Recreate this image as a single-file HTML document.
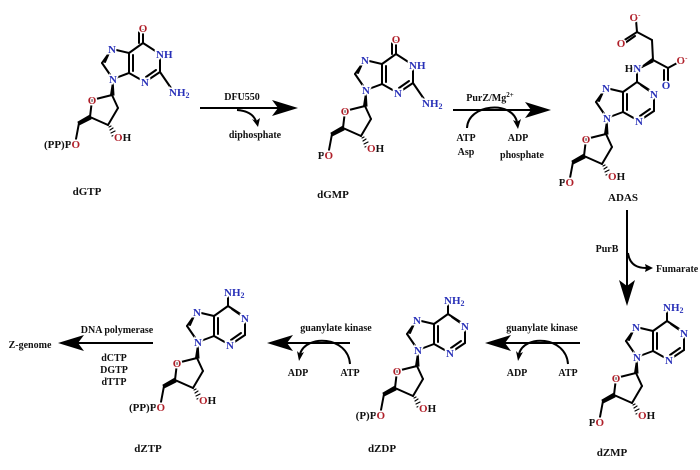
<!DOCTYPE html>
<html><head><meta charset="utf-8"><style>
html,body{margin:0;padding:0;background:#fff;width:700px;height:470px;overflow:hidden}
svg{display:block}
text{font-family:"Liberation Serif",serif;font-weight:bold;font-size:11px;}
.m{stroke:#fff;stroke-width:3px;paint-order:stroke;}
.o{fill:#b0202a}.n{fill:#2830b8}.k{fill:#111}
.l{font-size:10px;fill:#111}
</style></head><body>
<svg width="700" height="470" viewBox="0 0 700 470" xmlns="http://www.w3.org/2000/svg">
<defs>
<g id="pur" stroke="#000" stroke-width="2" fill="none" stroke-linecap="round">
 <line x1="143" y1="43" x2="160" y2="54"/>
 <line x1="160" y1="54" x2="160" y2="72"/>
 <line x1="160" y1="72" x2="145" y2="82"/>
 <line x1="145" y1="82" x2="129" y2="73"/>
 <line x1="129" y1="73" x2="129" y2="53"/>
 <line x1="133" y1="71" x2="133" y2="55"/>
 <line x1="129" y1="53" x2="143" y2="43"/>
 <line x1="129" y1="53" x2="112" y2="49"/>
 <line x1="112" y1="49" x2="102" y2="63"/>
 <line x1="109" y1="53" x2="105" y2="62"/>
 <line x1="102" y1="63" x2="113" y2="79"/>
 <line x1="113" y1="79" x2="129" y2="73"/>
</g>
<g id="sug" stroke="#000" stroke-width="2" fill="none" stroke-linecap="round">
 <line x1="112" y1="95" x2="92" y2="100"/>
 <line x1="92" y1="100" x2="90" y2="117"/>
 <line x1="90" y1="117" x2="108" y2="125"/>
 <line x1="108" y1="125" x2="118" y2="108"/>
 <line x1="118" y1="108" x2="112" y2="95"/>
 <polygon points="113,79 110.5,95 114,95" fill="#000" stroke-width="1"/>
 <polygon points="90,115 91,119 79,125 78,122" fill="#000" stroke-width="1"/>
 <line x1="79" y1="123" x2="76" y2="139"/>
 <g stroke-width="1.2"><line x1="109" y1="127" x2="111" y2="126"/><line x1="110" y1="130" x2="113" y2="128"/><line x1="111" y1="133" x2="115" y2="131"/><line x1="112" y1="136" x2="117" y2="134"/></g>
</g>
<g id="gua" stroke="#000" stroke-width="2" fill="none" stroke-linecap="round">
 <line x1="143" y1="43" x2="143" y2="30"/><line x1="139" y1="43" x2="139" y2="32"/>
 <line x1="156" y1="70" x2="146" y2="77"/>
 <line x1="160" y1="72" x2="171" y2="88"/>
</g>
<g id="ade" stroke="#000" stroke-width="2" fill="none" stroke-linecap="round">
 <line x1="143" y1="43" x2="143" y2="31"/>
 <line x1="147" y1="46" x2="157" y2="53"/>
 <line x1="156" y1="70" x2="146" y2="77"/>
</g>
</defs>

<!-- dGTP -->
<use href="#pur"/><use href="#sug"/><use href="#gua"/>
<text x="143" y="32" text-anchor="middle" class="o m">O</text>
<text x="112" y="53" text-anchor="middle" class="n m">N</text>
<text x="156" y="58" class="n m">NH</text>
<text x="113" y="83" text-anchor="middle" class="n m">N</text>
<text x="145" y="86" text-anchor="middle" class="n m">N</text>
<text x="169" y="96" class="n m">NH<tspan font-size="8" dy="2">2</tspan></text>
<text x="92" y="104" text-anchor="middle" class="o m">O</text>
<text x="114" y="141" class="o m">O<tspan class="k">H</tspan></text>
<text x="80" y="148" text-anchor="end" class="k m">(PP)P<tspan class="o">O</tspan></text>
<text x="87" y="195" text-anchor="middle" class="k">dGTP</text>

<!-- dGMP -->
<g transform="translate(253,11)"><use href="#pur"/><use href="#sug"/><use href="#gua"/></g>
<text x="396" y="43" text-anchor="middle" class="o m">O</text>
<text x="365" y="64" text-anchor="middle" class="n m">N</text>
<text x="409" y="69" class="n m">NH</text>
<text x="366" y="94" text-anchor="middle" class="n m">N</text>
<text x="398" y="97" text-anchor="middle" class="n m">N</text>
<text x="422" y="107" class="n m">NH<tspan font-size="8" dy="2">2</tspan></text>
<text x="345" y="115" text-anchor="middle" class="o m">O</text>
<text x="367" y="152" class="o m">O<tspan class="k">H</tspan></text>
<text x="333" y="159" text-anchor="end" class="k m">P<tspan class="o">O</tspan></text>
<text x="333" y="198" text-anchor="middle" class="k">dGMP</text>

<!-- ADAS -->
<g transform="translate(494,39)"><use href="#pur"/><use href="#sug"/><use href="#ade"/></g>
<g stroke="#000" stroke-width="2" fill="none" stroke-linecap="round">
 <polygon points="637,70 653,58 653,62" fill="#000" stroke-width="1"/>
 <line x1="653" y1="60" x2="652" y2="40"/>
 <line x1="652" y1="40" x2="637" y2="32"/>
 <line x1="637" y1="32" x2="636" y2="20"/>
 <line x1="637" y1="32" x2="623" y2="41"/><line x1="635" y1="36" x2="625" y2="43"/>
 <line x1="653" y1="60" x2="668" y2="68"/>
 <line x1="668" y1="68" x2="679" y2="62"/>
 <line x1="668" y1="68" x2="668" y2="81"/><line x1="664" y1="70" x2="664" y2="81"/>
</g>
<text x="635" y="21" text-anchor="middle" class="o m">O<tspan font-size="7" dy="-4">-</tspan></text>
<text x="621" y="47" text-anchor="middle" class="o m">O</text>
<text x="682" y="64" text-anchor="middle" class="o m">O<tspan font-size="7" dy="-4">-</tspan></text>
<text x="666" y="89" text-anchor="middle" class="n m">O</text>
<text x="633" y="72" text-anchor="middle" class="k m">H<tspan class="n">N</tspan></text>
<text x="606" y="92" text-anchor="middle" class="n m">N</text>
<text x="654" y="98" text-anchor="middle" class="n m">N</text>
<text x="607" y="122" text-anchor="middle" class="n m">N</text>
<text x="639" y="125" text-anchor="middle" class="n m">N</text>
<text x="586" y="143" text-anchor="middle" class="o m">O</text>
<text x="608" y="180" class="o m">O<tspan class="k">H</tspan></text>
<text x="574" y="186" text-anchor="end" class="k m">P<tspan class="o">O</tspan></text>
<text x="623" y="201" text-anchor="middle" class="k">ADAS</text>

<!-- dZMP -->
<g transform="translate(524,278)"><use href="#pur"/><use href="#sug"/><use href="#ade"/></g>
<text x="663" y="311" class="n m">NH<tspan font-size="8" dy="2">2</tspan></text>
<text x="636" y="331" text-anchor="middle" class="n m">N</text>
<text x="684" y="337" text-anchor="middle" class="n m">N</text>
<text x="637" y="361" text-anchor="middle" class="n m">N</text>
<text x="669" y="364" text-anchor="middle" class="n m">N</text>
<text x="616" y="382" text-anchor="middle" class="o m">O</text>
<text x="638" y="419" class="o m">O<tspan class="k">H</tspan></text>
<text x="604" y="426" text-anchor="end" class="k m">P<tspan class="o">O</tspan></text>
<text x="612" y="456" text-anchor="middle" class="k">dZMP</text>

<!-- dZDP -->
<g transform="translate(305,271)"><use href="#pur"/><use href="#sug"/><use href="#ade"/></g>
<text x="444" y="304" class="n m">NH<tspan font-size="8" dy="2">2</tspan></text>
<text x="417" y="324" text-anchor="middle" class="n m">N</text>
<text x="465" y="330" text-anchor="middle" class="n m">N</text>
<text x="418" y="354" text-anchor="middle" class="n m">N</text>
<text x="450" y="357" text-anchor="middle" class="n m">N</text>
<text x="397" y="375" text-anchor="middle" class="o m">O</text>
<text x="419" y="412" class="o m">O<tspan class="k">H</tspan></text>
<text x="385" y="419" text-anchor="end" class="k m">(P)P<tspan class="o">O</tspan></text>
<text x="382" y="452" text-anchor="middle" class="k">dZDP</text>

<!-- dZTP -->
<g transform="translate(85,263)"><use href="#pur"/><use href="#sug"/><use href="#ade"/></g>
<text x="224" y="296" class="n m">NH<tspan font-size="8" dy="2">2</tspan></text>
<text x="197" y="316" text-anchor="middle" class="n m">N</text>
<text x="245" y="322" text-anchor="middle" class="n m">N</text>
<text x="198" y="346" text-anchor="middle" class="n m">N</text>
<text x="230" y="349" text-anchor="middle" class="n m">N</text>
<text x="177" y="367" text-anchor="middle" class="o m">O</text>
<text x="199" y="404" class="o m">O<tspan class="k">H</tspan></text>
<text x="165" y="411" text-anchor="end" class="k m">(PP)P<tspan class="o">O</tspan></text>
<text x="148" y="452" text-anchor="middle" class="k">dZTP</text>

<!-- arrows -->
<g stroke="#000" stroke-width="2" fill="none">
 <line x1="200" y1="108" x2="285" y2="108"/>
 <path d="M237,110 Q252,111 256,121"/>
 <line x1="453" y1="110" x2="537" y2="110"/>
 <path d="M467,128 C468,104 512,100 517,122"/>
 <line x1="627" y1="210" x2="627" y2="292"/>
 <path d="M628,253 Q630,268 646,268"/>
 <line x1="580" y1="343" x2="498" y2="343"/>
 <path d="M568,364 C566,336 524,334 519,354"/>
 <line x1="350" y1="343" x2="280" y2="343"/>
 <path d="M350,364 C348,336 306,334 300,354"/>
 <line x1="153" y1="343" x2="71" y2="343"/>
</g>
<g fill="#000">
 <path d="M298,108 L272,100 L278,108 L272,116 Z"/>
 <path d="M551,110 L525,102 L531,110 L525,118 Z"/>
 <path d="M627,306 L619,280 L627,286 L635,280 Z"/>
 <path d="M485,343 L511,335 L505,343 L511,351 Z"/>
 <path d="M267,343 L293,335 L287,343 L293,351 Z"/>
 <path d="M58,343 L84,335 L78,343 L84,351 Z"/>
 <path d="M258,127 L252,119 L256,121 L260,118 Z"/>
 <path d="M518,129 L513,120 L517,122 L521,119 Z"/>
 <path d="M653,268 L645,264 L646,268 L645,272 Z"/>
 <path d="M518,361 L516,351 L519,354 L523,352 Z"/>
 <path d="M299,361 L297,351 L300,354 L304,352 Z"/>
</g>
<text x="242" y="100" text-anchor="middle" class="l">DFU550</text>
<text x="255" y="138" text-anchor="middle" class="l">diphosphate</text>
<text x="490" y="101" text-anchor="middle" class="l">PurZ/Mg<tspan font-size="7" dy="-4">2+</tspan></text>
<text x="466" y="141" text-anchor="middle" class="l">ATP</text>
<text x="466" y="155" text-anchor="middle" class="l">Asp</text>
<text x="518" y="141" text-anchor="middle" class="l">ADP</text>
<text x="522" y="158" text-anchor="middle" class="l">phosphate</text>
<text x="607" y="252" text-anchor="middle" class="l">PurB</text>
<text x="656" y="272" class="l">Fumarate</text>
<text x="542" y="331" text-anchor="middle" class="l">guanylate  kinase</text>
<text x="517" y="376" text-anchor="middle" class="l">ADP</text>
<text x="568" y="376" text-anchor="middle" class="l">ATP</text>
<text x="336" y="331" text-anchor="middle" class="l">guanylate  kinase</text>
<text x="298" y="376" text-anchor="middle" class="l">ADP</text>
<text x="350" y="376" text-anchor="middle" class="l">ATP</text>
<text x="117" y="333" text-anchor="middle" class="l">DNA polymerase</text>
<text x="30" y="348" text-anchor="middle" class="l">Z-genome</text>
<text x="114" y="361" text-anchor="middle" class="l">dCTP</text>
<text x="114" y="373" text-anchor="middle" class="l">DGTP</text>
<text x="114" y="385" text-anchor="middle" class="l">dTTP</text>
</svg>
</body></html>
